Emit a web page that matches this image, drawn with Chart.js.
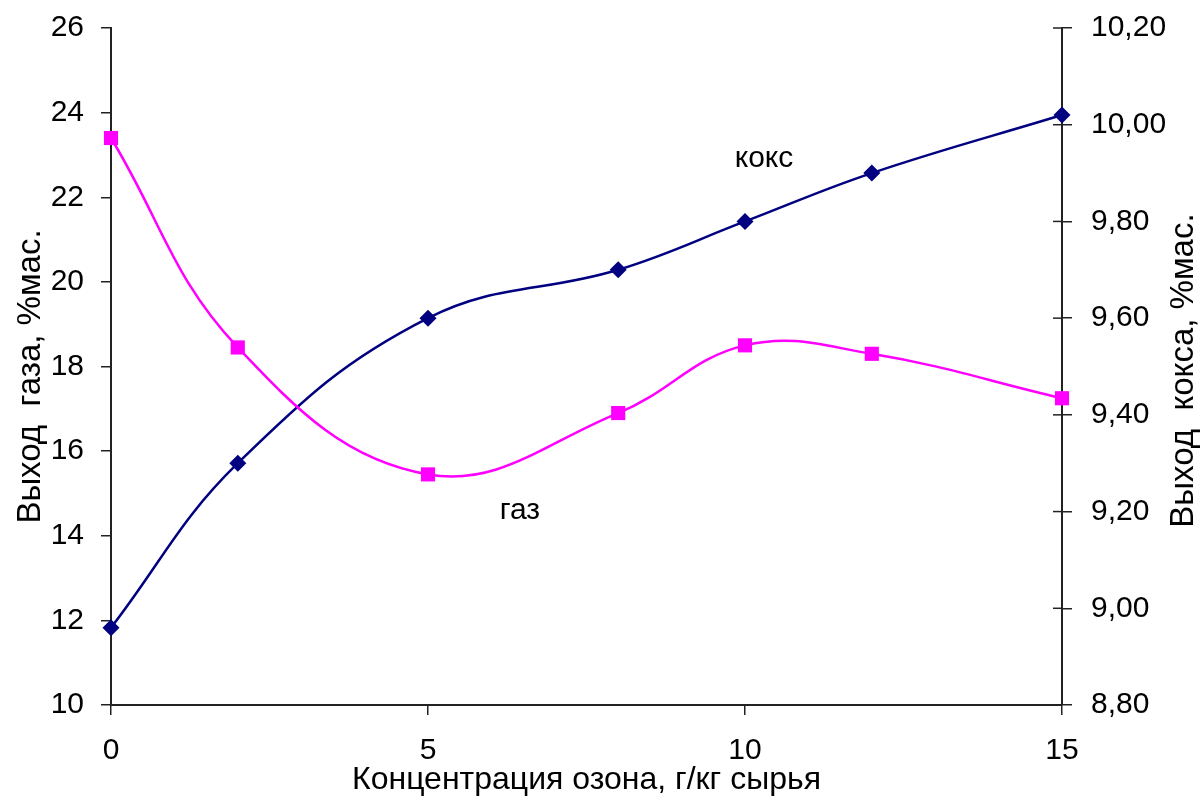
<!DOCTYPE html>
<html>
<head>
<meta charset="utf-8">
<script src="https://cdn.jsdelivr.net/npm/chart.js@4.4.1/dist/chart.umd.min.js"></script>
<style>
  html, body { margin: 0; padding: 0; background: #fff; }
  #wrap { width: 1201px; height: 805px; }
</style>
</head>
<body>
<div id="wrap"><canvas id="chart" width="1201" height="805"></canvas></div>
<script>
/* ================= DATA ================= */
const ozone = [0, 2, 5, 8, 10, 12, 15];
const gasYield = [23.4, 18.45, 15.45, 16.9, 18.5, 18.3, 17.25];
const cokeYield = [8.96, 9.30, 9.60, 9.70, 9.80, 9.90, 10.02];

const xTitle = "Концентрация озона, г/кг сырья";
const gasTitle = "Выход  газа, %мас.";
const cokeTitle = "Выход  кокса, %мас.";

// series captions inside the plot (x value, y value, axis)
const captionText = ["кокс", "газ"];
const captionX = [10.3, 6.45];
const captionY = [9.93, 14.6];
const captionAxis = ["y2", "y"];

/* ================= STYLE ================= */
const FONT = "'Liberation Sans', Arial, sans-serif";
const AXIS = "#222";

const toPoints = (xs, ys) => xs.map((x, i) => ({ x, y: ys[i] }));

// fixed scale sizes so the plot area sits where the original one does
const fixSize = (w, h) => scale => {
  if (w) scale.width = w;
  if (h) scale.height = h;
  scale.paddingTop = 0;
  scale.paddingBottom = 0;
  scale.paddingLeft = 0;
  scale.paddingRight = 0;
};

/* captions plugin */
const captions = {
  id: "captions",
  afterDatasetsDraw(chart) {
    const ctx = chart.ctx;
    ctx.save();
    ctx.fillStyle = "#000";
    ctx.font = "30px " + FONT;
    ctx.textAlign = "center";
    ctx.textBaseline = "middle";
    captionText.forEach((t, i) => {
      const px = chart.scales.x.getPixelForValue(captionX[i]);
      const py = chart.scales[captionAxis[i]].getPixelForValue(captionY[i]);
      ctx.fillText(t, px, py);
    });
    ctx.restore();
  }
};

/* vertical axis titles, both read bottom-to-top */
const yTitles = {
  id: "yTitles",
  afterDraw(chart) {
    const ctx = chart.ctx;
    const mid = (chart.chartArea.top + chart.chartArea.bottom) / 2;
    ctx.save();
    ctx.fillStyle = "#000";
    ctx.font = "33px " + FONT;
    ctx.textAlign = "center";
    ctx.textBaseline = "middle";
    [[gasTitle, chart.scales.y.left + 31, mid + 10],
     [cokeTitle, chart.scales.y2.right - 17, mid + 4]].forEach(([t, x, y]) => {
      ctx.save();
      ctx.translate(x, y);
      ctx.rotate(-Math.PI / 2);
      ctx.fillText(t, 0, 0);
      ctx.restore();
    });
    ctx.restore();
  }
};

/* inner half of tick marks on the right axis */
const crossTicks = {
  id: "crossTicks",
  afterDraw(chart) {
    const s = chart.scales.y2;
    const ctx = chart.ctx;
    ctx.save();
    ctx.strokeStyle = AXIS;
    ctx.lineWidth = 1.5;
    s.ticks.forEach(t => {
      const py = s.getPixelForValue(t.value);
      ctx.beginPath();
      ctx.moveTo(s.left - 9, py);
      ctx.lineTo(s.left, py);
      ctx.stroke();
    });
    ctx.restore();
  }
};

/* ================= CHART ================= */
new Chart(document.getElementById("chart"), {
  type: "line",
  data: {
    datasets: [
      {
        label: "газ",
        data: toPoints(ozone, gasYield),
        yAxisID: "y",
        borderColor: "#FF00FF",
        backgroundColor: "#FF00FF",
        borderWidth: 2.5,
        pointStyle: "rect",
        pointRadius: 10,
        pointBorderWidth: 0,
        tension: 0.4,
        clip: false
      },
      {
        label: "кокс",
        data: toPoints(ozone, cokeYield),
        yAxisID: "y2",
        borderColor: "#000080",
        backgroundColor: "#000080",
        borderWidth: 2.5,
        pointStyle: "rectRot",
        pointRadius: 8.5,
        pointBorderWidth: 0,
        tension: 0.4,
        clip: false
      }
    ]
  },
  options: {
    responsive: false,
    animation: false,
    layout: { padding: { top: 28, left: 0, right: 0, bottom: 0 } },
    plugins: {
      legend: { display: false },
      tooltip: { enabled: false }
    },
    scales: {
      x: {
        type: "linear",
        min: 0,
        max: 15,
        ticks: { stepSize: 5, color: "#000", font: { family: FONT, size: 30 }, padding: 18 },
        grid: { drawOnChartArea: false, tickLength: 10, color: AXIS, lineWidth: 1.5 },
        border: { color: AXIS, width: 2 },
        title: { display: true, text: xTitle, color: "#000", font: { family: FONT, size: 32 }, padding: { top: 0, bottom: 6 } },
        afterFit: fixSize(0, 100)
      },
      y: {
        position: "left",
        min: 10,
        max: 26,
        ticks: { stepSize: 2, color: "#000", font: { family: FONT, size: 30 }, padding: 17 },
        grid: { drawOnChartArea: false, tickLength: 10, color: AXIS, lineWidth: 1.5 },
        border: { color: AXIS, width: 2 },
        afterFit: fixSize(111, 0)
      },
      y2: {
        position: "right",
        min: 8.8,
        max: 10.2,
        ticks: {
          stepSize: 0.2,
          color: "#000",
          font: { family: FONT, size: 30 },
          padding: 19,
          callback: v => v.toFixed(2).replace(".", ",")
        },
        grid: { drawOnChartArea: false, tickLength: 10, color: AXIS, lineWidth: 1.5 },
        border: { color: AXIS, width: 2 },
        afterFit: fixSize(139, 0)
      }
    }
  },
  plugins: [captions, yTitles, crossTicks]
});
</script>
</body>
</html>
